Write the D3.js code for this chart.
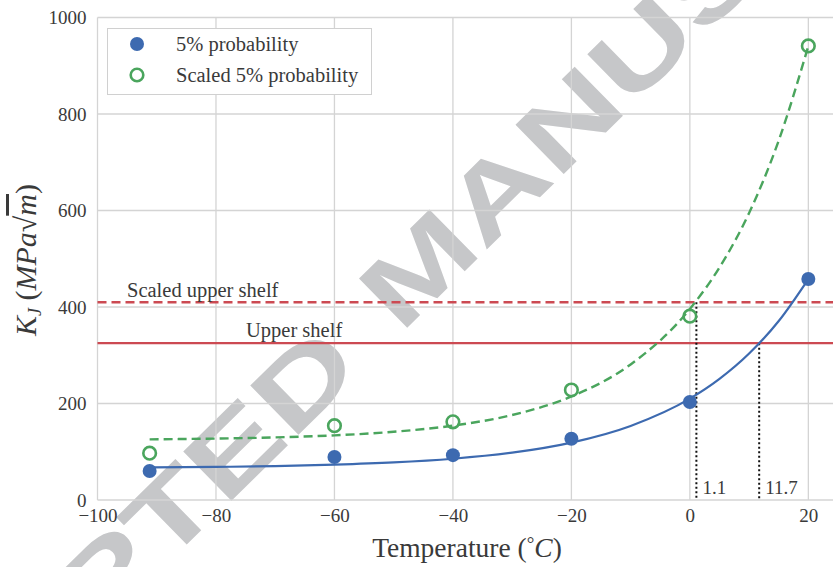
<!DOCTYPE html>
<html>
<head>
<meta charset="utf-8">
<script src="https://cdn.jsdelivr.net/npm/d3@7"></script>
<style>
  html, body { margin: 0; padding: 0; background: #fff; }
  svg { display: block; }
  text { font-family: "Liberation Serif", "Times New Roman", serif; }
</style>
</head>
<body>
<svg id="chart" width="833" height="567"></svg>
<script>
// ---- data ----
const temps = [-91.2, -60, -40, -20, 0, 20];
const kj5 = [60, 89, 93, 127, 203, 458];
const kjScaled = [97, 154, 162, 228, 381, 941];

// fitted master curves
const fitT = [-91.2, -80, -70, -60, -50, -40, -30, -20, -10, 0, 5, 10, 15, 20];
const fit5 = [67.5, 68.6, 70.3, 73.2, 77.8, 85.5, 98.1, 119, 153.5, 210, 251, 303.5, 371, 458];
const fitScaled = [125.7, 127.3, 129.8, 134, 141.4, 154.1, 176.2, 214.6, 281, 396, 482, 595, 745, 941];

const upperShelf = 325;
const scaledUpperShelf = 410;
const crossTemps = [11.7, 1.1];        // T where curves meet shelves
const crossLevels = [325, 410];
const crossLabels = ["11.7", "1.1"];

const xTicks = [-100, -80, -60, -40, -20, 0, 20];
const yTicks = [0, 200, 400, 600, 800, 1000];
const legendLabels = ["5% probability", "Scaled 5% probability"];
const watermarkWords = ["ACCEPTED", "MANUSCRIPT"];

// ---- styling ----
const blue = "#3d6ab0", green = "#4aa55d", red = "#cc4a52", grid = "#d4d4d4", txt = "#3a3a3a";

const svg = d3.select("#chart");
const x = d3.scaleLinear().domain([-100, 24.5]).range([97.5, 835]);
const y = d3.scaleLinear().domain([0, 1000]).range([500, 17.5]);

// watermark (drawn first, everything else on top)
const wm = svg.append("g")
  .attr("transform", "translate(400.6,334.3) rotate(-44.5) scale(1.41,1)")
  .attr("fill", "#c6c7c9");
wm.append("text").attr("x", -36).attr("y", 0).attr("text-anchor", "end")
  .style("font-family", "'Liberation Sans', Arial, sans-serif")
  .style("font-weight", "bold").style("font-size", "100px").text(watermarkWords[0]);
wm.append("text").attr("x", 0).attr("y", 0)
  .style("font-family", "'Liberation Sans', Arial, sans-serif")
  .style("font-weight", "bold").style("font-size", "100px").text(watermarkWords[1]);

// grid
const g = svg.append("g");
g.selectAll(".vg").data(xTicks).join("line")
  .attr("x1", d => x(d)).attr("x2", d => x(d)).attr("y1", y(0)).attr("y2", y(1000))
  .attr("stroke", grid).attr("stroke-width", 1.3);
g.selectAll(".hg").data(yTicks).join("line")
  .attr("x1", x(-100)).attr("x2", 835).attr("y1", d => y(d)).attr("y2", d => y(d))
  .attr("stroke", grid).attr("stroke-width", 1.3);

// axes (labels only; spines are grid lines)
const xAxis = svg.append("g").attr("transform", `translate(0,${y(0)})`)
  .call(d3.axisBottom(x).tickValues(xTicks).tickSize(0).tickPadding(9)
        .tickFormat(d => d < 0 ? "\u2212" + Math.abs(d) : String(d)));
xAxis.select(".domain").remove();
xAxis.selectAll("text").attr("fill", txt).style("font-size", "19px")
  .style("font-family", "'Liberation Serif', serif");

const yAxis = svg.append("g").attr("transform", `translate(${x(-100)},0)`)
  .call(d3.axisLeft(y).tickValues(yTicks).tickSize(0).tickPadding(11).tickFormat(d3.format("d")));
yAxis.select(".domain").remove();
yAxis.selectAll("text").attr("fill", txt).style("font-size", "19px")
  .style("font-family", "'Liberation Serif', serif");

// shelves
svg.append("line").attr("x1", x(-100)).attr("x2", 835)
  .attr("y1", y(upperShelf)).attr("y2", y(upperShelf))
  .attr("stroke", red).attr("stroke-width", 2.2);
svg.append("line").attr("x1", x(-100)).attr("x2", 835)
  .attr("y1", y(scaledUpperShelf)).attr("y2", y(scaledUpperShelf))
  .attr("stroke", red).attr("stroke-width", 2.4).attr("stroke-dasharray", "9,5");

svg.append("text").attr("x", 127).attr("y", y(scaledUpperShelf) - 5)
  .attr("fill", txt).style("font-size", "20.5px").text("Scaled upper shelf");
svg.append("text").attr("x", 246).attr("y", y(upperShelf) - 6)
  .attr("fill", txt).style("font-size", "20.5px").text("Upper shelf");

// crossing dotted verticals
crossTemps.forEach((t, i) => {
  svg.append("line").attr("x1", x(t)).attr("x2", x(t))
    .attr("y1", y(crossLevels[i])).attr("y2", y(0))
    .attr("stroke", "#111").attr("stroke-width", 2).attr("stroke-dasharray", "2,2.5");
  svg.append("text").attr("x", x(t) + 6).attr("y", 494)
    .attr("fill", txt).style("font-size", "19px").text(crossLabels[i]);
});

// fitted curves
const line = d3.line().curve(d3.curveMonotoneX);
svg.append("path")
  .attr("d", line(fitT.map((t, i) => [x(t), y(fit5[i])])))
  .attr("fill", "none").attr("stroke", blue).attr("stroke-width", 2.2);
svg.append("path")
  .attr("d", line(fitT.map((t, i) => [x(t), y(fitScaled[i])])))
  .attr("fill", "none").attr("stroke", green).attr("stroke-width", 2.4)
  .attr("stroke-dasharray", "9,5");

// points
svg.selectAll(".p5").data(temps).join("circle")
  .attr("cx", d => x(d)).attr("cy", (d, i) => y(kj5[i])).attr("r", 7)
  .attr("fill", blue);
svg.selectAll(".ps").data(temps).join("circle")
  .attr("cx", d => x(d)).attr("cy", (d, i) => y(kjScaled[i])).attr("r", 6.3)
  .attr("fill", "none").attr("stroke", green).attr("stroke-width", 2.6);

// legend
const lg = svg.append("g");
lg.append("rect").attr("x", 107.5).attr("y", 28.5).attr("width", 264).attr("height", 66)
  .attr("fill", "#fff").attr("stroke", "#d0d0d0").attr("stroke-width", 1);
lg.append("circle").attr("cx", 137).attr("cy", 44).attr("r", 7).attr("fill", blue);
lg.append("circle").attr("cx", 137).attr("cy", 75).attr("r", 6.3)
  .attr("fill", "none").attr("stroke", green).attr("stroke-width", 2.6);
legendLabels.forEach((l, i) => {
  lg.append("text").attr("x", 176).attr("y", 51 + i * 31)
    .attr("fill", txt).style("font-size", "20.5px").text(l);
});

// axis titles
const xt = svg.append("text").attr("x", 467).attr("y", 557).attr("text-anchor", "middle")
  .attr("fill", txt).style("font-size", "27.5px");
xt.append("tspan").text("Temperature (");
xt.append("tspan").text("\u00B0").attr("dy", -7).style("font-size", "19px");
xt.append("tspan").text("C").attr("dy", 7).style("font-style", "italic");
xt.append("tspan").text(")");

const yt = svg.append("text").attr("transform", "translate(36,260) rotate(-90)")
  .attr("text-anchor", "middle").attr("fill", txt).style("font-size", "30px");
yt.append("tspan").text("K").style("font-style", "italic");
yt.append("tspan").text("J").attr("dy", 5).style("font-size", "18px").style("font-style", "italic");
yt.append("tspan").text(" (").attr("dy", -5);
yt.append("tspan").text("MPa").style("font-style", "italic");
yt.append("tspan").text("\u221A");
yt.append("tspan").text("m").style("font-style", "italic").style("text-decoration", "overline");
yt.append("tspan").text(")");
</script>
</body>
</html>
